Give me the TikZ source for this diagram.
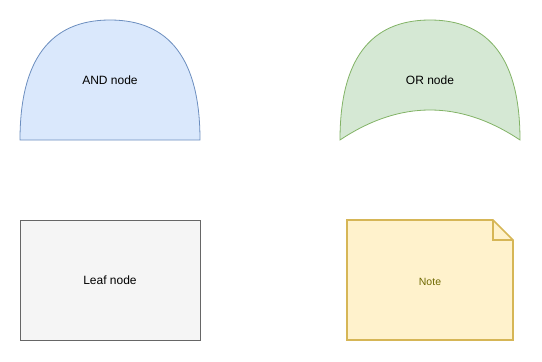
\documentclass[tikz,border=0pt]{standalone}
\usepackage{fontspec}
\setmainfont{Liberation Sans}
\begin{document}
\begin{tikzpicture}[x=1pt,y=-1pt,
  lbl/.style={font=\fontsize{12}{14}\selectfont, inner sep=0pt},
  andshape/.style={draw={rgb,255:red,108;green,142;blue,191}, fill={rgb,255:red,218;green,232;blue,252}, line width=0.8pt},
  orshape/.style={draw={rgb,255:red,130;green,179;blue,102}, fill={rgb,255:red,213;green,232;blue,212}, line width=0.8pt},
  leafshape/.style={draw={rgb,255:red,102;green,102;blue,102}, fill={rgb,255:red,245;green,245;blue,245}, line width=0.8pt},
  noteshape/.style={draw={rgb,255:red,214;green,182;blue,86}, fill={rgb,255:red,255;green,242;blue,204}, line width=1.6pt, line join=miter}]
\useasboundingbox (0,0) rectangle (542,362);
% AND node: flat base, rounded top
\path[andshape] (20,140) .. controls (20,60) and (50,20) .. (110,20)
  .. controls (170,20) and (200,60) .. (200,140) -- cycle;
\node[lbl] (andlbl) at (110,80) {AND node};
% OR node: rounded top, concave base
\path[orshape] (340,140) .. controls (340,60) and (370,20) .. (430,20)
  .. controls (490,20) and (520,60) .. (520,140)
  .. controls (460,100) and (400,100) .. (340,140) -- cycle;
\node[lbl] (orlbl) at (430,80) {OR node};
% Leaf node
\path[leafshape] (20,220) rectangle (200,340);
\node[lbl] (leaflbl) at (110,280) {Leaf node};
% Note with folded corner
\path[noteshape] (347,220) -- (493,220) -- (513,240) -- (513,340) -- (347,340) -- cycle;
\draw[noteshape, fill=none] (493,220) -- (493,240) -- (513,240);
\node[lbl, font=\fontsize{10.5}{12}\selectfont, text={rgb,255:red,110;green,104;blue,0}] (notelbl) at (430,282) {Note};
\end{tikzpicture}
\end{document}
